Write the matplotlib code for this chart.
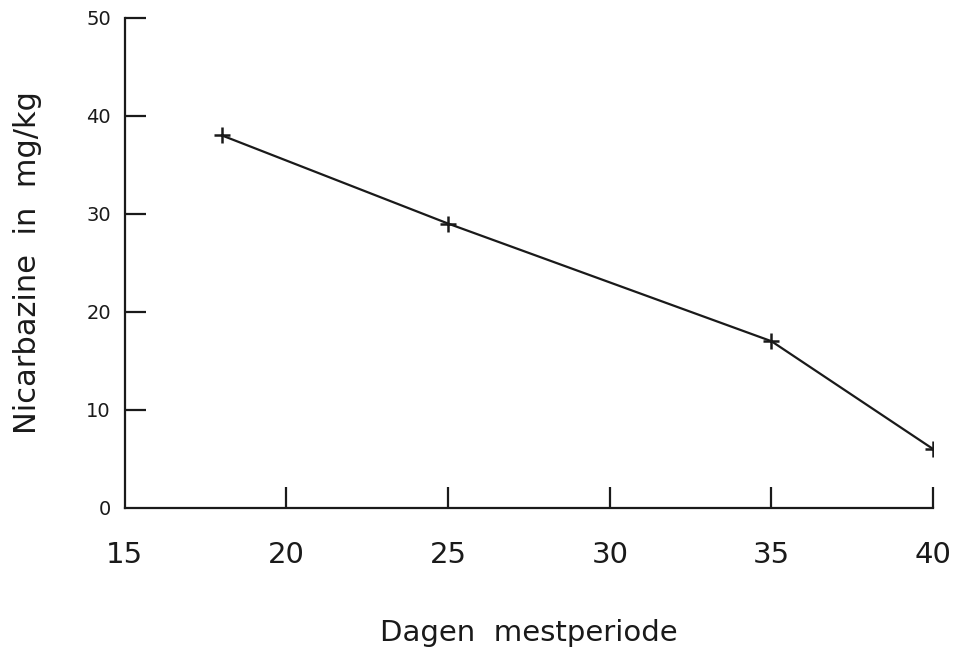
import matplotlib
matplotlib.use('Agg')
import matplotlib.pyplot as plt

# Nicarbazine residue over the fattening period
days = [18, 25, 35, 40]
nicarbazine = [38, 29, 17, 6]

x_ticks = [15, 20, 25, 30, 35, 40]
y_ticks = [0, 10, 20, 30, 40, 50]

plt.rcParams['font.family'] = ['DejaVu Sans']

fig, ax = plt.subplots(figsize=(9.6, 6.57), dpi=100)
fig.subplots_adjust(left=0.130, right=0.972, bottom=0.227, top=0.973)

ax.plot(days, nicarbazine, color='#1a1a1a', linewidth=1.6,
        marker='+', markersize=12, markeredgewidth=1.8)

ax.set_xlim(15, 40)
ax.set_ylim(0, 50)

# only left and bottom frame
ax.spines['right'].set_visible(False)
ax.spines['top'].set_visible(False)
for side in ['left', 'bottom']:
    ax.spines[side].set_linewidth(1.6)
    ax.spines[side].set_color('#1a1a1a')

ax.set_xticks(x_ticks)
ax.set_yticks(y_ticks)
ax.tick_params(axis='x', direction='in', length=15, width=1.6,
               pad=24, labelsize=21, colors='#1a1a1a')
ax.tick_params(axis='y', direction='in', length=15, width=1.6,
               pad=10, labelsize=14, colors='#1a1a1a')
# no tick mark at the origin corner
ax.xaxis.get_major_ticks()[0].tick1line.set_visible(False)
ax.yaxis.get_major_ticks()[0].tick1line.set_visible(False)

ax.set_xlabel('Dagen  mestperiode', fontsize=21, labelpad=36, color='#1a1a1a')
ax.set_ylabel('Nicarbazine  in  mg/kg', fontsize=22, labelpad=32, color='#1a1a1a')

fig.savefig('out.png', dpi=100)
